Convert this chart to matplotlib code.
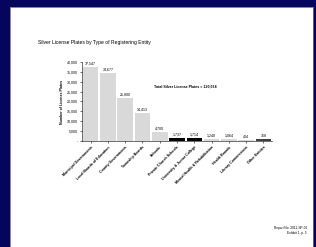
import matplotlib
matplotlib.use('Agg')
import matplotlib.pyplot as plt
from matplotlib.ticker import FuncFormatter

# data
categories = ['Municipal Governments', 'Local Boards of Education', 'County Governments',
              'Township Boards', 'Schools', 'Private Church Schools',
              'University & Junior College', 'Mental Health & Rehabilitation',
              'Health Boards', 'Library Commissions', 'Other Entities']
plates = [37547, 34677, 21800, 14413, 4700, 1737, 1714, 1240, 1064, 404, 768]
bar_colors = ['#d9d9d9'] * 5 + ['#000000', '#000000'] + ['#d9d9d9'] * 3 + ['#404040']
total = 120064

NAVY = '#05055e'
plt.rcParams['font.family'] = ['Liberation Sans', 'DejaVu Sans']

fig = plt.figure(figsize=(3.16, 2.47), dpi=100)
fig.patch.set_facecolor(NAVY)

# white page behind the chart
page = fig.add_axes([10 / 316, 0, 303 / 316, 240 / 247], zorder=0)
page.set_facecolor('white')
page.set_xticks([])
page.set_yticks([])
for s in page.spines.values():
    s.set_edgecolor('#6a6ab0')
    s.set_linewidth(0.6)

ax = fig.add_axes([82 / 316, 1 - 141 / 247, 190 / 316, 79 / 247], zorder=1)
ax.set_facecolor('none')
x = list(range(len(plates)))
ax.bar(x, plates, width=0.9, color=bar_colors, zorder=2)
for i, v in enumerate(plates):
    ax.text(i, v + 700, '{:,}'.format(v), ha='center', va='bottom', fontsize=2.6)

ax.set_xlim(-0.5, len(plates) - 0.5)
ax.set_ylim(0, 40000)
ax.set_yticks(range(0, 40001, 5000))
ax.yaxis.set_major_formatter(FuncFormatter(lambda v, p: '{:,}'.format(int(v)) if v else '-'))
ax.set_xticks(x)
ax.set_xticklabels(categories, rotation=45, ha='right', rotation_mode='anchor',
                   fontsize=2.6, fontweight='bold')
ax.tick_params(axis='both', length=1.5, width=0.4, pad=1.5, labelsize=2.6)
for s in ['top', 'right']:
    ax.spines[s].set_visible(False)
for s in ['left', 'bottom']:
    ax.spines[s].set_linewidth(0.4)
ax.set_ylabel('Number of License Plates', fontsize=2.6, fontweight='bold', labelpad=2)

ax.text(0.38, 0.68, 'Total Silver License Plates = {:,}'.format(total),
        transform=ax.transAxes, fontsize=2.6, fontweight='bold')

fig.text(38 / 316, 1 - 42 / 247, 'Silver License Plates by Type of Registering Entity',
         fontsize=3.6, va='center', zorder=2)
fig.text(307 / 316, 1 - 229 / 247, 'Report No. 2011-SP-02', fontsize=2.3, ha='right', zorder=2)
fig.text(307 / 316, 1 - 234 / 247, 'Exhibit 1, p. 5', fontsize=2.3, ha='right', zorder=2)

fig.savefig('out.png', dpi=100, facecolor=NAVY)
